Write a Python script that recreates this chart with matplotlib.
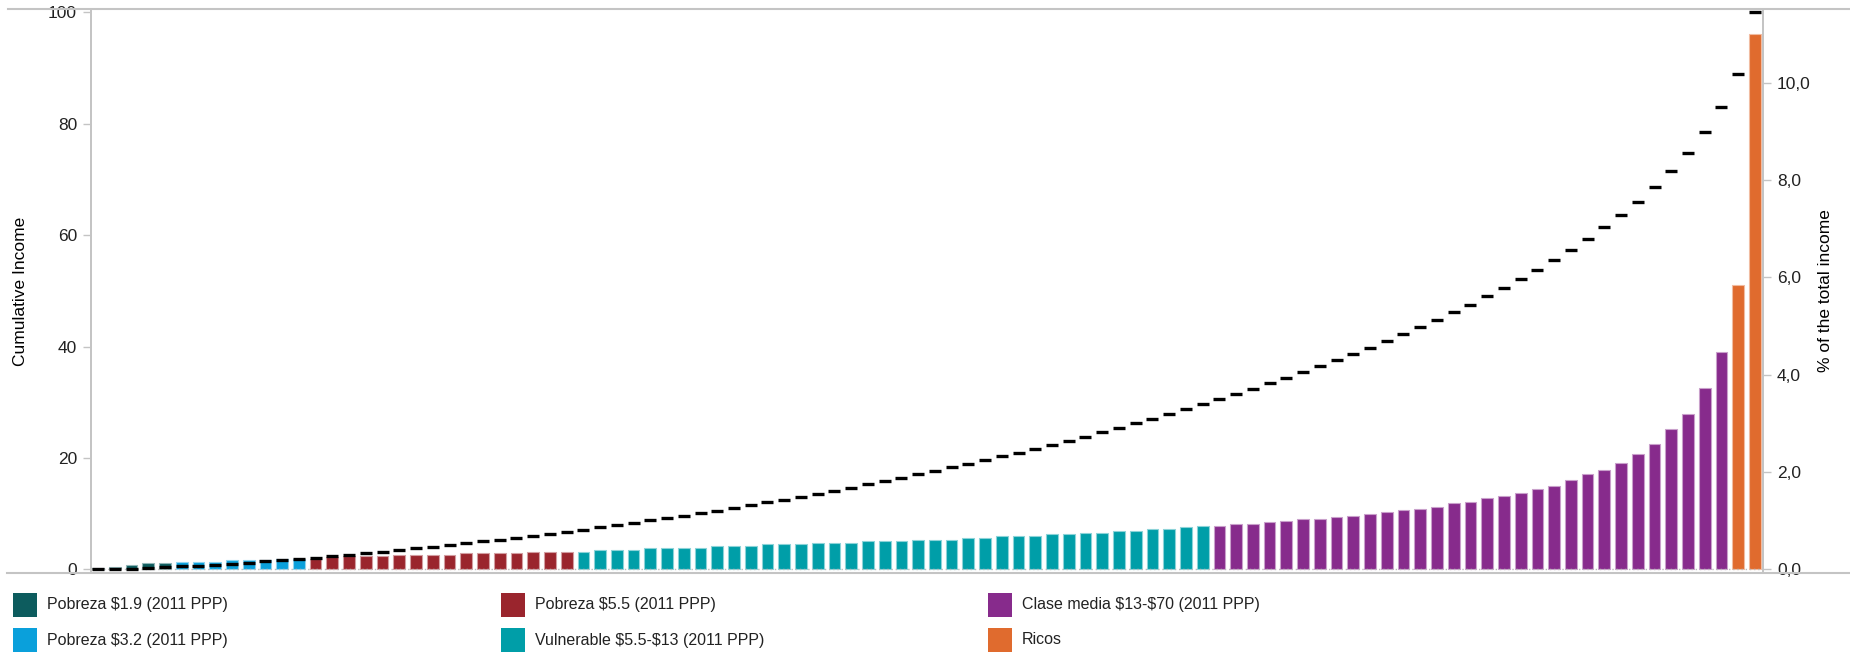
import numpy as np
import matplotlib.pyplot as plt
from matplotlib.lines import Line2D
from matplotlib.patches import Rectangle
from matplotlib.colors import to_rgb

plt.rcParams['font.family'] = ['Liberation Sans', 'DejaVu Sans']

# share of total income (%) per percentile, grouped by class
pobreza_19 = [0.02, 0.04, 0.08, 0.12, 0.12]
pobreza_32 = [0.15, 0.15, 0.15, 0.19, 0.19, 0.19, 0.22, 0.22]
pobreza_55 = [0.22, 0.25, 0.28, 0.28, 0.28, 0.29, 0.29, 0.29, 0.29,
              0.33, 0.33, 0.33, 0.33, 0.36, 0.36, 0.36]
vulnerable = [0.36, 0.40, 0.40, 0.40, 0.43, 0.43, 0.43, 0.43, 0.47, 0.47,
              0.47, 0.51, 0.51, 0.51, 0.54, 0.54, 0.54, 0.58, 0.58, 0.58,
              0.61, 0.61, 0.61, 0.64, 0.64, 0.68, 0.68, 0.68, 0.72, 0.72,
              0.75, 0.75, 0.79, 0.79, 0.82, 0.82, 0.86, 0.89]
clase_media = [0.89, 0.93, 0.93, 0.97, 1.00, 1.03, 1.03, 1.07, 1.10, 1.14,
               1.18, 1.21, 1.25, 1.28, 1.36, 1.39, 1.46, 1.50, 1.57, 1.65,
               1.72, 1.84, 1.95, 2.05, 2.19, 2.37, 2.58, 2.88, 3.19, 3.73,
               4.47]
ricos = [5.84, 11.0]

groups = [pobreza_19, pobreza_32, pobreza_55, vulnerable, clase_media, ricos]
group_names = ['Pobreza $1.9 (2011 PPP)', 'Pobreza $3.2 (2011 PPP)',
               'Pobreza $5.5 (2011 PPP)', 'Vulnerable $5.5-$13 (2011 PPP)',
               'Clase media $13-$70 (2011 PPP)', 'Ricos']
group_colors = ['#0d5c5e', '#0aa0db', '#9a252d', '#009ea8', '#872b8c', '#e06b2e']

shares = np.concatenate([np.array(g) for g in groups])
cum = np.cumsum(shares)
cum = cum / cum[-1] * 100
x = np.arange(len(shares))

bar_colors = []
edge_colors = []
for g, c in zip(groups, group_colors):
    r, gg, b = to_rgb(c)
    light = (r + (1 - r) * 0.55, gg + (1 - gg) * 0.55, b + (1 - b) * 0.55)
    bar_colors += [c] * len(g)
    edge_colors += [light] * len(g)

W, H = 1850, 657
fig = plt.figure(figsize=(W / 100, H / 100), dpi=100)
ax = fig.add_axes([91 / W, 1 - 573 / H, (1763 - 91) / W, (573 - 9) / H])
ax2 = ax.twinx()

ax2.bar(x, shares, width=0.7, color=bar_colors, edgecolor=edge_colors, linewidth=0.8)
ax2.axhline(0, color='#bbbbbb', lw=1, ls=(0, (1, 2)))
ax.plot(x, cum, ls='none', marker='_', ms=8.3, mew=2.4, color='black', clip_on=False)
ax.set_zorder(ax2.get_zorder() + 1)
ax.patch.set_visible(False)

ax.set_xlim(-0.42, 99.48)
ax.set_ylim(-0.66, 100.6)
ax2.set_ylim(-0.076, 11.52)
ax.set_xticks([])
ax.set_yticks(range(0, 101, 20))
ticks2 = np.arange(0, 11, 2)
ax2.set_yticks(ticks2)
ax2.set_yticklabels([f"{v:.1f}".replace('.', ',') for v in ticks2])

grey = '#c4c4c4'
for a in (ax, ax2):
    a.spines['top'].set_visible(False)
    a.spines['bottom'].set_visible(False)
    a.spines['left'].set_color(grey)
    a.spines['right'].set_color(grey)
    a.spines['left'].set_linewidth(1.4)
    a.spines['right'].set_linewidth(1.4)
    a.tick_params(axis='y', length=6, width=1, color=grey, labelsize=12.5,
                  labelcolor='#222222', pad=4)

fig.text(21 / W, 1 - 291 / H, 'Cumulative Income', rotation=90, ha='center',
         va='center', fontsize=12.5)
fig.text(1825 / W, 1 - 291 / H, '% of the total income', rotation=90, ha='center',
         va='center', fontsize=12.5)

# frame lines across the figure
fig.add_artist(Line2D([8 / W, 1], [1 - 9 / H] * 2, transform=fig.transFigure,
                      color=grey, lw=1.5))
fig.add_artist(Line2D([7 / W, 1], [1 - 573 / H] * 2, transform=fig.transFigure,
                      color=grey, lw=1.5))

# legend, 3 columns x 2 rows
col_x = [13, 501, 988]
row_top = [593, 628]
order = [(0, 0), (0, 1), (1, 0), (1, 1), (2, 0), (2, 1)]
for (col, row), name, c in zip(order, group_names, group_colors):
    fig.add_artist(Rectangle((col_x[col] / W, 1 - (row_top[row] + 24) / H),
                             24 / W, 24 / H, transform=fig.transFigure,
                             facecolor=c, edgecolor='none'))
    fig.text((col_x[col] + 34) / W, 1 - (row_top[row] + 12) / H,
             name.replace('$', r'\$'),
             ha='left', va='center', fontsize=11.5, color='#222222')

fig.savefig('out.png', dpi=100)
